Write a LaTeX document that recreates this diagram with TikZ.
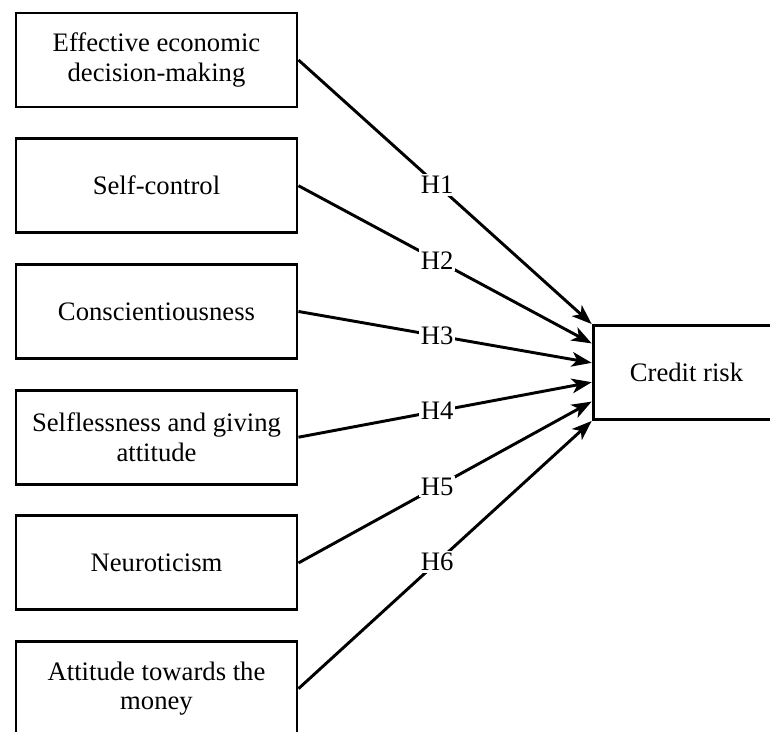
\documentclass[tikz,border=0pt]{standalone}
\usepackage{fontspec}
\setmainfont{Liberation Serif}
\usetikzlibrary{
    positioning,
    calc,
    arrows.meta
}

\begin{document}
\begin{tikzpicture}[
        x=0.75pt, y=-0.75pt,
        font=\fontsize{20}{22}\selectfont,
        caixa/.style={
            draw,
            line width=2.2pt,
            minimum width=210.75pt,
            minimum height=70.5pt,
            align=center,
            inner sep=2pt
        },
        seta/.style={
            line width=2.2pt,
            -{Stealth[length=15pt,width=11pt,inset=4pt]}
        },
        rotulo/.style={
            fill=white,
            inner sep=1.5pt,
            pos=0.473
        }
    ]

    \useasboundingbox (0,0) rectangle (770,731);

    % variaveis independentes
    \node[caixa] (efetiva) at (156.5,60) {Effective economic\\decision-making};
    \node[caixa, below=21.6pt of efetiva] (autocontrole) {Self-control};
    \node[caixa, below=21.6pt of autocontrole] (consciencia) {Conscientiousness};
    \node[caixa, below=21.6pt of consciencia] (altruismo) {Selflessness and giving\\attitude};
    \node[caixa, below=21.6pt of altruismo] (neuroticismo) {Neuroticism};
    \node[caixa, below=21.6pt of neuroticismo] (dinheiro) {Attitude towards the\\money};

    % variavel dependente
    \node[caixa, minimum width=140pt] (risco) at (686.5,372.5) {Credit risk};

    % hipoteses
    \draw[seta] (efetiva.east) -- node[rotulo]{H1} ($(risco.north west)!0.0!(risco.south west)$);
    \draw[seta] (autocontrole.east) -- node[rotulo]{H2} ($(risco.north west)!0.2!(risco.south west)$);
    \draw[seta] (consciencia.east) -- node[rotulo]{H3} ($(risco.north west)!0.4!(risco.south west)$);
    \draw[seta] (altruismo.east) -- node[rotulo]{H4} ($(risco.north west)!0.6!(risco.south west)$);
    \draw[seta] (neuroticismo.east) -- node[rotulo]{H5} ($(risco.north west)!0.8!(risco.south west)$);
    \draw[seta] (dinheiro.east) -- node[rotulo]{H6} ($(risco.north west)!1.0!(risco.south west)$);

\end{tikzpicture}
\end{document}
